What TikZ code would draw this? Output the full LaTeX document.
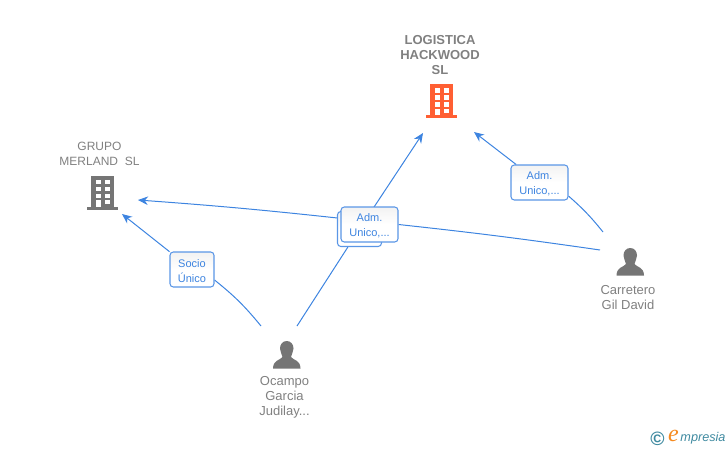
\documentclass[tikz,border=0pt]{standalone}
\usepackage{fontspec}
\setmainfont{Liberation Sans}
\newfontfamily\logofont{Liberation Serif}
\usetikzlibrary{arrows.meta,backgrounds}
\definecolor{linkblue}{HTML}{3D84E0}
\definecolor{boxblue}{HTML}{5A96E6}
\definecolor{icongrey}{HTML}{757575}
\definecolor{textgrey}{HTML}{808080}
\definecolor{firmred}{HTML}{FF5F33}
\definecolor{logoteal}{HTML}{3F8AA0}
\definecolor{logoorange}{HTML}{F58A1F}
\tikzset{
	linkbox/.style={draw=boxblue, line width=0.8pt, rounded corners=2.5pt, top color=black!5, bottom color=white, middle color=white, text=linkblue, minimum height=26.25pt, align=center, inner sep=0pt, font=\fontsize{8.25}{11.25}\selectfont},
	link/.style={draw=linkblue, line width=0.75pt},
	linkarrow/.style={link, -{Stealth[length=7.5pt,width=6.5pt]}},
	firmlabel/.style={text=textgrey, align=center, inner sep=0pt},
	personlabel/.style={text=textgrey, align=center, inner sep=0pt, font=\fontsize{9.75}{11.25}\selectfont},
}
\def\boxstrut{\rule{0pt}{8.2pt}}
\def\buildingicon[#1](#2){
	\begin{scope}[shift={(#2)}]
		\fill[#1] (0, 0) rectangle (23, 31);
		\fill[#1] (-4, 31) rectangle (27, 34);
		\foreach \row in {4, 11, 18}{
			\fill[white] (4.5, \row) rectangle (9.5, \row+4.5);
			\fill[white] (13.5, \row) rectangle (19, \row+4.5);
		}
		\fill[white] (4.5, 24.5) rectangle (9.5, 31);
		\fill[white] (13.5, 24.5) rectangle (19, 28.5);
	\end{scope}
}
\def\personicon(#1){
	\begin{scope}[shift={(#1)}]
		\fill[icongrey] (13.75, 0) .. controls (18, 0) and (20.5, 3.5) .. (20.5, 7.5) .. controls (20.5, 11) and (18.5, 13) .. (18, 16) .. controls (20, 19) and (27.5, 19) .. (27.5, 27.5) -- (0, 27.5) .. controls (0, 19) and (7.5, 19) .. (9.5, 16) .. controls (9, 13) and (7, 11) .. (7, 7.5) .. controls (7, 3.5) and (9.5, 0) .. (13.75, 0) -- cycle;
	\end{scope}
}

\begin{document}
\begin{tikzpicture}[x=0.75pt, y=-0.75pt]
	%%%%% START %%%%%
	\useasboundingbox (0, 0) rectangle (728, 450);

	\node[firmlabel, font=\bfseries\fontsize{9.75}{11.25}\selectfont] (logistica) at (440, 55) {LOGISTICA\\HACKWOOD\\SL};
	\buildingicon[firmred](430, 84);

	\node[firmlabel, font=\fontsize{9}{11.25}\selectfont] (grupo) at (99.5, 153.5) {GRUPO\\MERLAND\ \ SL};
	\buildingicon[icongrey](91, 175.5);

	\personicon(616.5, 248);
	\node[personlabel] (carretero) at (628, 297.5) {Carretero\\Gil David};

	\personicon(273, 341);
	\node[personlabel] (ocampo) at (284.5, 397.5) {Ocampo\\Garcia\\Judilay...};

	% link boxes
	\node[linkbox, minimum width=33pt] (socio) at (192, 269.5) {\boxstrut Socio\\Único};
	\node[linkbox, minimum width=42.75pt] (admright) at (539.5, 182.5) {\boxstrut Adm.\\Unico,...};
	\node[linkbox, minimum width=33pt] (admback) at (359.5, 229) {};
	\node[linkbox, minimum width=42.75pt] (admfront) at (369.5, 224.5) {\boxstrut Adm.\\Unico,...};

	% free ends of the links
	\coordinate (logisticaleft) at (423, 133);
	\coordinate (logisticaright) at (474, 132);
	\coordinate (grupotop) at (138, 200);
	\coordinate (grupobottom) at (122, 214);
	\coordinate (carreterotop) at (603, 232);
	\coordinate (carreteroleft) at (600, 250);
	\coordinate (ocampoleft) at (261, 326);
	\coordinate (ocamporight) at (297, 326);

	\begin{scope}[on background layer]
		\draw[link] (ocampoleft) to[bend right=6] (socio.-25);
		\draw[linkarrow] (socio) -- (grupobottom);
		\draw[link] (carreterotop) to[bend right=5] (admright.-25);
		\draw[linkarrow] (admright) -- (logisticaright);
		\draw[link] (ocamporight) -- (admback);
		\draw[linkarrow] (admback) -- (logisticaleft);
		\draw[link] (carreteroleft) to[bend right=1] (admfront.east);
		\draw[linkarrow] (admfront.168) to[bend right=1] (grupotop);
	\end{scope}

	% logo
	\node[text=logoteal, inner sep=0pt, font=\bfseries\fontsize{14.5}{14.5}\selectfont] (copyright) at (657.5, 439) {©};
	\node[text=logoorange, inner sep=0pt, font=\logofont\itshape\fontsize{18}{18}\selectfont] (logoe) at (673.5, 436) {e};
	\node[text=logoteal, inner sep=0pt, font=\itshape\fontsize{9.5}{10}\selectfont] (logotext) at (703, 438) {mpresia};
	%%%%% END %%%%%
\end{tikzpicture}
\end{document}
